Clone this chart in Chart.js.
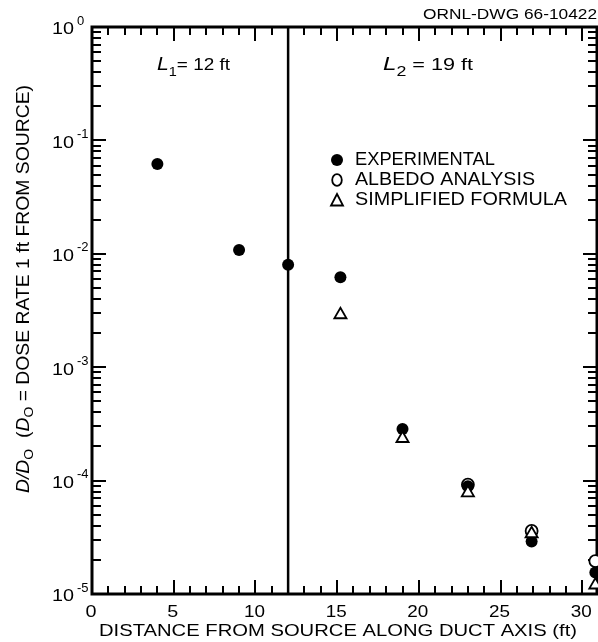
<!DOCTYPE html>
<html><head><meta charset="utf-8">
<script src="https://cdn.jsdelivr.net/npm/chart.js@4.4.1/dist/chart.umd.min.js"></script>
<style>html,body{margin:0;padding:0;background:#fff;overflow:hidden}#wrap{width:598px;height:642px;position:relative}</style>
</head><body><div id="wrap"><canvas id="c" width="598" height="642"></canvas></div>
<script>
// ---- data ----
const expX = [4, 9, 12, 15.2, 19, 23, 26.9, 30.8];
const expY = [0.062, 0.0108, 0.0080, 0.0062, 2.85e-4, 8.9e-5, 2.9e-5, 1.55e-5];
const albX = [23, 26.9, 30.8];
const albY = [9.2e-5, 3.6e-5, 1.95e-5];
const simX = [15.2, 19, 23, 26.9, 30.8];
const simY = [2.9e-3, 2.35e-4, 7.8e-5, 3.4e-5, 1.2e-5];
const seriesNames = ['EXPERIMENTAL', 'ALBEDO ANALYSIS', 'SIMPLIFIED FORMULA'];
const xTickValues = [0,1,2,3,4,5,6,7,8,9,10,11,12,13,14,15,16,17,18,19,20,21,22,23,24,25,26,27,28,29,30];
const xTickLabels = ['0','5','10','15','20','25','30'];
const xLabelValues = [0,5,10,15,20,25,30];
const yDecades = [0, -1, -2, -3, -4, -5];
const yDecadeLabels = ['0', '-1', '-2', '-3', '-4', '-5'];
const yMantissas = [1,2,3,4,5,6,7,8,9];
const dividerX = [12, 12];
const dividerY = [1e-5, 1];
const xTitle = 'DISTANCE FROM SOURCE ALONG DUCT AXIS (ft)';
const drawingId = 'ORNL-DWG 66-10422';

const FONT = '"Liberation Sans", Arial, sans-serif';
const pts = (xs, ys) => xs.map((x, i) => ({x, y: ys[i]}));

function fitText(ctx, text, left, y, width, font) {
  ctx.save();
  ctx.font = font;
  const w = ctx.measureText(text).width;
  ctx.translate(left, y);
  ctx.scale(width / w, 1);
  ctx.textAlign = 'left';
  ctx.fillText(text, 0, 0);
  ctx.restore();
}
function drawRich(ctx, segs, left, y, width) {
  let total = 0;
  segs.forEach(s => { ctx.font = s.font; s.w = ctx.measureText(s.t).width; total += s.w; });
  ctx.save();
  ctx.translate(left, y);
  ctx.scale(width / total, 1);
  ctx.textAlign = 'left';
  let cx = 0;
  segs.forEach(s => { ctx.font = s.font; ctx.fillText(s.t, cx, s.dy || 0); cx += s.w; });
  ctx.restore();
}

const framePlugin = {
  id: 'frame',
  beforeDatasetsDraw(chart) {
    const ctx = chart.ctx, a = chart.chartArea;
    const xs = chart.scales.x, ys = chart.scales.y;
    ctx.save();
    ctx.strokeStyle = '#000';
    ctx.lineCap = 'butt';
    ctx.lineWidth = 2;
    yDecades.forEach(d => {
      yMantissas.forEach(m => {
        const v = m * Math.pow(10, d);
        if (v > 1.0000001) return;
        const py = Math.round(ys.getPixelForValue(v));
        const len = m === 1 ? 14 : 9;
        ctx.beginPath();
        ctx.moveTo(a.left, py); ctx.lineTo(a.left + len, py);
        ctx.moveTo(a.right, py); ctx.lineTo(a.right - len, py);
        ctx.stroke();
      });
    });
    xTickValues.forEach(v => {
      const px = Math.round(xs.getPixelForValue(v));
      const len = v % 5 === 0 ? 14 : 8;
      ctx.beginPath();
      ctx.moveTo(px, a.bottom); ctx.lineTo(px, a.bottom - len);
      ctx.moveTo(px, a.top); ctx.lineTo(px, a.top + len);
      ctx.stroke();
    });
    ctx.lineWidth = 3;
    ctx.strokeRect(a.left, a.top, a.right - a.left, a.bottom - a.top);
    ctx.restore();
  },
  afterDraw(chart) {
    const ctx = chart.ctx;
    const xs = chart.scales.x, ys = chart.scales.y;
    ctx.save();
    ctx.fillStyle = '#000';
    ctx.textBaseline = 'middle';
    yDecades.forEach((d, i) => {
      const py = ys.getPixelForValue(Math.pow(10, d));
      fitText(ctx, '10', 52, py + 3, 22, '16px ' + FONT);
      ctx.font = '13px ' + FONT;
      ctx.textAlign = 'left';
      ctx.fillText(yDecadeLabels[i], 77, py - 6);
    });
    xLabelValues.forEach((v, i) => {
      const px = xs.getPixelForValue(v);
      const t = xTickLabels[i];
      const w = t.length === 1 ? 11 : 21;
      fitText(ctx, t, px - w / 2 - 1, 612, w, '17px ' + FONT);
    });
    fitText(ctx, xTitle, 99, 631, 478, '17px ' + FONT);
    ctx.save();
    ctx.translate(24, 289);
    ctx.rotate(-Math.PI / 2);
    drawRich(ctx, [
      {t: 'D/D', font: 'italic 18px ' + FONT},
      {t: 'O', font: '13px ' + FONT, dy: 5},
      {t: '  (', font: '18px ' + FONT},
      {t: 'D', font: 'italic 18px ' + FONT},
      {t: 'O', font: '13px ' + FONT, dy: 5},
      {t: ' = DOSE RATE 1 ft FROM SOURCE)', font: '18px ' + FONT}
    ], -204, 0, 408);
    ctx.restore();
    fitText(ctx, drawingId, 423, 15, 174, '14px ' + FONT);
    drawRich(ctx, [
      {t: 'L', font: 'italic 19px ' + FONT},
      {t: '1', font: '13px ' + FONT, dy: 7},
      {t: '= 12 ft', font: '17px ' + FONT}
    ], 157, 65, 73);
    drawRich(ctx, [
      {t: 'L', font: 'italic 19px ' + FONT},
      {t: '2', font: '14px ' + FONT, dy: 7},
      {t: ' = 19 ft', font: '17px ' + FONT}
    ], 383, 65, 90);
    const lx = 337;
    const rows = [160, 180, 200];
    const widths = [140, 180, 212];
    ctx.lineWidth = 1.8;
    ctx.strokeStyle = '#000';
    ctx.beginPath(); ctx.arc(lx, rows[0], 6, 0, Math.PI * 2); ctx.fill();
    ctx.beginPath(); ctx.ellipse(lx, rows[1], 4.8, 5.8, 0, 0, Math.PI * 2); ctx.stroke();
    ctx.beginPath();
    ctx.moveTo(lx, rows[2] - 6); ctx.lineTo(lx + 6, rows[2] + 5.5); ctx.lineTo(lx - 6, rows[2] + 5.5); ctx.closePath(); ctx.stroke();
    seriesNames.forEach((n, i) => fitText(ctx, n, 355, rows[i], widths[i], '18px ' + FONT));
    ctx.restore();
  }
};

new Chart(document.getElementById('c'), {
  type: 'scatter',
  data: {
    datasets: [
      {label: seriesNames[2], data: pts(simX, simY), pointStyle: 'triangle', pointRadius: 7,
       backgroundColor: '#fff', borderColor: '#000', borderWidth: 1.8, order: 0, clip: false},
      {label: seriesNames[0], data: pts(expX, expY), pointStyle: 'circle', pointRadius: 6,
       backgroundColor: '#000', borderColor: '#000', borderWidth: 0, order: 1, clip: false},
      {label: seriesNames[1], data: pts(albX, albY), pointStyle: 'circle', pointRadius: 6,
       backgroundColor: '#fff', borderColor: '#000', borderWidth: 1.8, order: 2, clip: false},
      {label: 'divider', data: pts(dividerX, dividerY), showLine: true, pointRadius: 0,
       borderColor: '#000', borderWidth: 2.5, order: 3, clip: false}
    ]
  },
  options: {
    responsive: false, animation: false, devicePixelRatio: 1,
    layout: {autoPadding: false, padding: {left: 92, right: 1, top: 27, bottom: 48}},
    plugins: {legend: {display: false}, tooltip: {enabled: false}},
    events: [],
    scales: {
      x: {type: 'linear', min: 0, max: 30.9, display: false},
      y: {type: 'logarithmic', min: 1e-5, max: 1, display: false}
    }
  },
  plugins: [framePlugin]
});
</script></body></html>
